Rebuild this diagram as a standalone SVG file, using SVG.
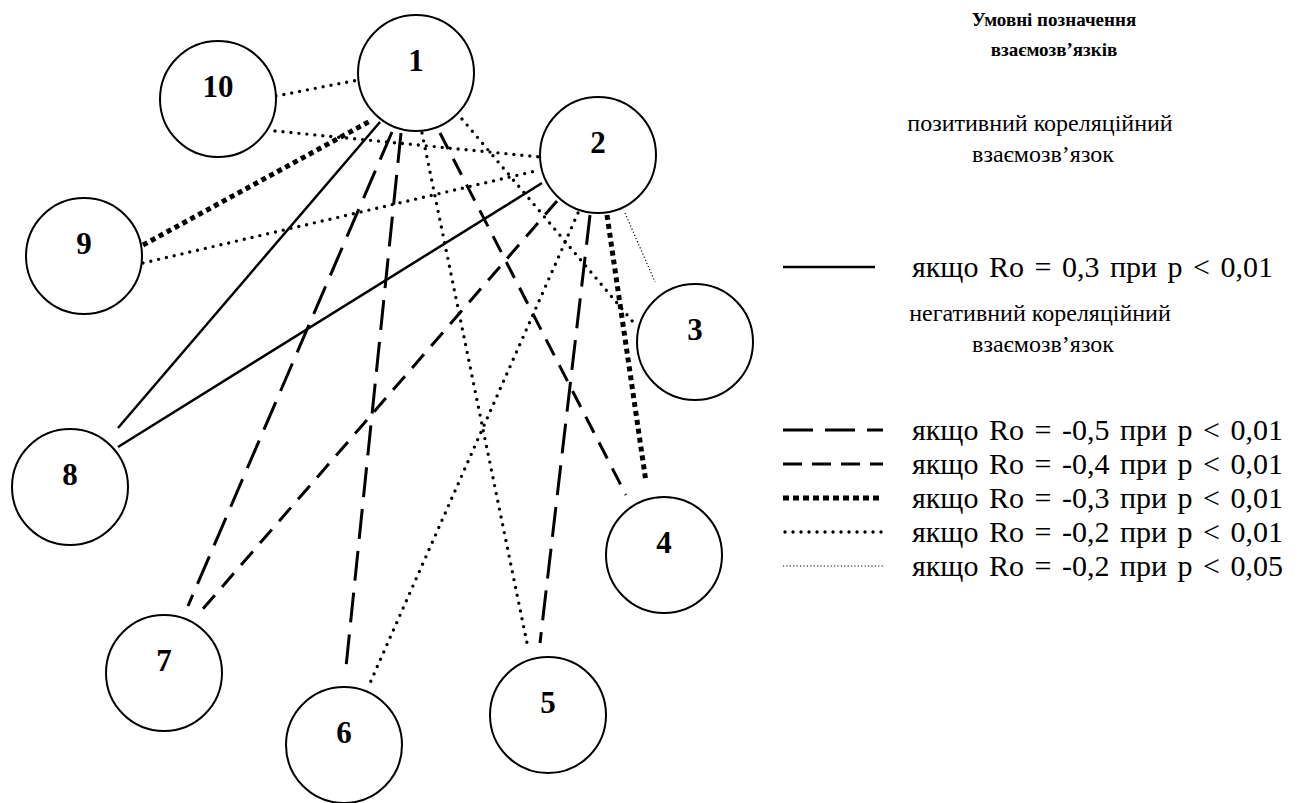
<svg xmlns="http://www.w3.org/2000/svg" width="1300" height="803" viewBox="0 0 1300 803">
<style>
.bg{fill:#fff}
.node circle{fill:#fff;stroke:#000;stroke-width:2}
.node text{font-family:"Liberation Serif","Times New Roman",serif;font-weight:bold;font-size:31px;text-anchor:middle;fill:#000}
.c{fill:none;stroke:#000}
.s{stroke-width:2.5}
.ld{stroke-width:3;stroke-dasharray:30 12}
.md{stroke-width:3;stroke-dasharray:18 11}
.td{stroke-width:5;stroke-dasharray:5 4}
.d{stroke-width:3.4;stroke-dasharray:0 8;stroke-linecap:round}
.tn{stroke-width:1.2;stroke-dasharray:1.2 2.2}
.lg{font-family:"Liberation Serif","Times New Roman",serif;fill:#000}
.ttl{font-weight:bold;font-size:19px;text-anchor:middle}
.hd{font-size:24px;text-anchor:middle}
.row{font-size:30px;word-spacing:3px}
</style>
<rect class="bg" x="0" y="0" width="1300" height="803"/>
<g id="connectors">
<line class="c s" x1="380" y1="122" x2="118" y2="428"/>
<line class="c s" x1="118" y1="447" x2="542" y2="183"/>
<line class="c ld" x1="392" y1="132" x2="188" y2="606"/>
<line class="c ld" x1="401" y1="133" x2="346" y2="667"/>
<line class="c ld" x1="590" y1="215" x2="540" y2="643"/>
<line class="c md" x1="440" y1="133" x2="626" y2="495"/>
<line class="c md" x1="557" y1="201" x2="202" y2="610"/>
<line class="c td" x1="143" y1="245" x2="372" y2="120"/>
<line class="c td" x1="607" y1="215" x2="646" y2="482"/>
<line class="c d" x1="276" y1="96" x2="358" y2="80"/>
<line class="c d" x1="275" y1="131" x2="540" y2="157"/>
<line class="c d" x1="143" y1="263" x2="540" y2="170"/>
<line class="c d" x1="462" y1="119" x2="633" y2="322"/>
<line class="c d" x1="422" y1="133" x2="527" y2="643"/>
<line class="c d" x1="578" y1="213" x2="370" y2="683"/>
<line class="c tn" x1="625" y1="213" x2="655" y2="282"/>
</g>
<g id="node1" class="node"><circle cx="416" cy="73" r="58"/><text x="416" y="71">1</text></g>
<g id="node2" class="node"><circle cx="598" cy="155" r="58"/><text x="598" y="153">2</text></g>
<g id="node3" class="node"><circle cx="695" cy="342" r="58"/><text x="695" y="340">3</text></g>
<g id="node4" class="node"><circle cx="664" cy="555" r="58"/><text x="664" y="553">4</text></g>
<g id="node5" class="node"><circle cx="548" cy="715" r="58"/><text x="548" y="713">5</text></g>
<g id="node6" class="node"><circle cx="344" cy="745" r="58"/><text x="344" y="743">6</text></g>
<g id="node7" class="node"><circle cx="164" cy="673" r="58"/><text x="164" y="671">7</text></g>
<g id="node8" class="node"><circle cx="70" cy="487" r="58"/><text x="70" y="485">8</text></g>
<g id="node9" class="node"><circle cx="84" cy="256" r="58"/><text x="84" y="254">9</text></g>
<g id="node10" class="node"><circle cx="218" cy="99" r="58"/><text x="218" y="97">10</text></g>
<g id="legend">
<text class="lg ttl" x="1054" y="26">Умовні позначення</text>
<text class="lg ttl" x="1054" y="56">взаємозв’язків</text>
<text class="lg hd" x="1040" y="131">позитивний кореляційний</text>
<text class="lg hd" x="1043" y="162">взаємозв’язок</text>
<line class="c s" x1="783" y1="267" x2="875" y2="267"/>
<text class="lg row" x="912" y="277">якщо Ro = 0,3 при p &lt; 0,01</text>
<text class="lg hd" x="1040" y="321">негативний кореляційний</text>
<text class="lg hd" x="1043" y="352">взаємозв’язок</text>
<line class="c ld" x1="783" y1="430" x2="883" y2="430"/>
<text class="lg row" x="912" y="440">якщо Ro = -0,5 при p &lt; 0,01</text>
<line class="c md" x1="783" y1="464" x2="883" y2="464" style="stroke-dasharray:19 10"/>
<text class="lg row" x="912" y="474">якщо Ro = -0,4 при p &lt; 0,01</text>
<line class="c td" x1="783" y1="498" x2="883" y2="498" style="stroke-dasharray:6 4"/>
<text class="lg row" x="912" y="508">якщо Ro = -0,3 при p &lt; 0,01</text>
<line class="c d" x1="785" y1="532" x2="883" y2="532"/>
<text class="lg row" x="912" y="542">якщо Ro = -0,2 при p &lt; 0,01</text>
<line class="c tn" x1="783" y1="566" x2="883" y2="566" style="stroke-dasharray:1.2 2.2"/>
<text class="lg row" x="912" y="576">якщо Ro = -0,2 при p &lt; 0,05</text>
</g>
</svg>
